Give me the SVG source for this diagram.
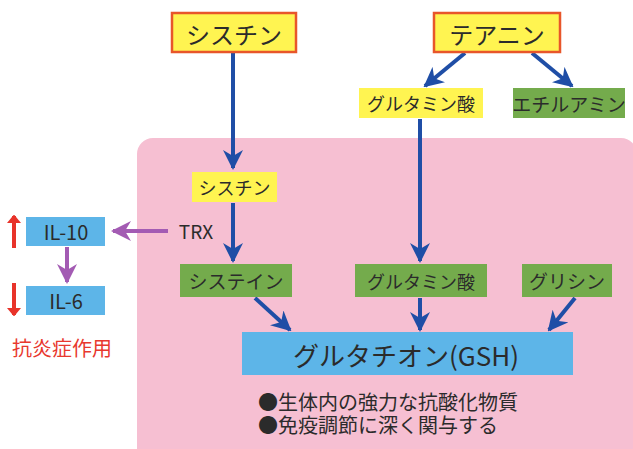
<svg xmlns="http://www.w3.org/2000/svg" width="633" height="449" viewBox="0 0 633 449">
<style>
text{font-family:"Noto Sans CJK JP","Noto Sans",sans-serif;fill:#2b2b2b;text-anchor:middle;dominant-baseline:central}
.src{fill:#fff451;stroke:#e8562a;stroke-width:2.5}
.yel{fill:#fff451}
.grn{fill:#74ab4c}
.blu{fill:#5db5e8}
.b{stroke:#1f4ea6;stroke-width:4;fill:none;marker-end:url(#ab)}
.p{stroke:#a35bb3;stroke-width:4;fill:none;marker-end:url(#ap)}
.r{stroke:#e8332a;stroke-width:4;fill:none;marker-end:url(#ar)}
</style>
<defs>
<marker id="ab" viewBox="0 0 10 10" refX="9" refY="5" markerWidth="5" markerHeight="5" orient="auto" markerUnits="strokeWidth"><path d="M0,0 L10,5 L0,10 L3,5 Z" fill="#1f4ea6"/></marker>
<marker id="ap" viewBox="0 0 10 10" refX="9" refY="5" markerWidth="5" markerHeight="5" orient="auto" markerUnits="strokeWidth"><path d="M0,0 L10,5 L0,10 L3,5 Z" fill="#a35bb3"/></marker>
<marker id="ar" viewBox="0 0 6 10" refX="5" refY="5" markerWidth="2.2" markerHeight="3.7" orient="auto" markerUnits="strokeWidth"><path d="M0,0 L6,5 L0,10 Z" fill="#e8332a"/></marker>
</defs>
<rect width="633" height="449" fill="#ffffff"/>
<rect x="137" y="138" width="500" height="330" rx="16" fill="#f6bfd2"/>

<g id="connectors">
<path class="b" d="M233,53 V168"/>
<path class="b" d="M233,203 V261"/>
<path class="b" d="M465,53 L425,86"/>
<path class="b" d="M532,53 L572,86"/>
<path class="b" d="M420,119 V261"/>
<path class="b" d="M420,298 V330"/>
<path class="b" d="M255,298 L290,330"/>
<path class="b" d="M575,298 L549,330"/>
<path class="p" d="M168,231 H113"/>
<path class="p" d="M67,247 V282"/>
<path class="r" d="M14,248 V216"/>
<path class="r" d="M14,283 V315"/>
</g>

<g id="cystine-src"><rect class="src" x="172" y="13" width="124" height="39"/><text x="234" y="33" font-size="24">シスチン</text></g>
<g id="theanine-src"><rect class="src" x="434" y="13" width="126" height="39"/><text x="497" y="33" font-size="24">テアニン</text></g>
<g id="glutamate-top"><rect class="yel" x="359" y="88" width="124" height="30"/><text x="421" y="103" font-size="18">グルタミン酸</text></g>
<g id="ethylamine"><rect class="grn" x="513" y="88" width="112" height="30"/><text x="569" y="103" font-size="19">エチルアミン</text></g>
<g id="cystine"><rect class="yel" x="192" y="172" width="85" height="30"/><text x="234.5" y="187" font-size="18">シスチン</text></g>
<g id="cysteine"><rect class="grn" x="180" y="264" width="112" height="33"/><text x="236" y="280.5" font-size="19">システイン</text></g>
<g id="glutamate"><rect class="grn" x="355" y="264" width="132" height="33"/><text x="421" y="280.5" font-size="18">グルタミン酸</text></g>
<g id="glycine"><rect class="grn" x="522" y="264" width="90" height="33"/><text x="567" y="280.5" font-size="19">グリシン</text></g>
<g id="gsh"><rect class="blu" x="242" y="332" width="331" height="43"/><text x="406" y="354" font-size="26">グルタチオン(GSH)</text></g>
<g id="trx"><text x="196" y="230" font-size="19">TRX</text></g>
<g id="il10"><rect class="blu" x="26" y="217" width="79" height="29"/><text x="66" y="231.5" font-size="20">IL-10</text></g>
<g id="il6"><rect class="blu" x="26" y="286" width="79" height="29"/><text x="66" y="300.5" font-size="20">IL-6</text></g>
<g id="anti"><text x="62" y="347" font-size="20" style="fill:#e8382e">抗炎症作用</text></g>
<g id="notes">
<text x="258" y="401" font-size="20" style="text-anchor:start">●生体内の強力な抗酸化物質</text>
<text x="258" y="424" font-size="20" style="text-anchor:start">●免疫調節に深く関与する</text>
</g>
</svg>
